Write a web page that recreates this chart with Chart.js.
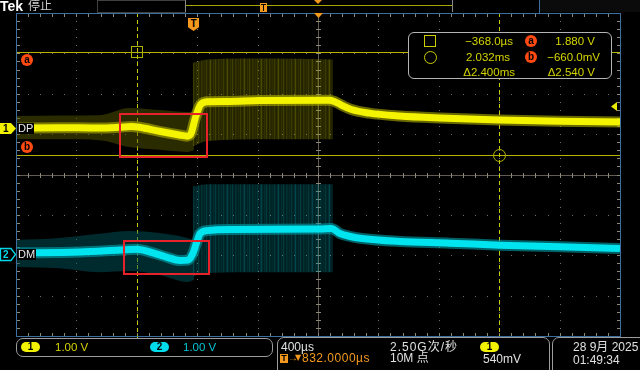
<!DOCTYPE html>
<html lang="zh">
<head>
<meta charset="utf-8">
<title>Tek DP / DM</title>
<script src="https://cdn.jsdelivr.net/npm/chart.js@4/dist/chart.umd.min.js"></script>
<style>
html,body{margin:0;padding:0;background:#000;}
#wrap{position:relative;width:640px;height:370px;overflow:hidden;background:#000;font-family:"Liberation Sans","Noto Sans CJK SC",sans-serif;}
#c{position:absolute;left:0;top:0;}
.t{position:absolute;white-space:nowrap;font-size:12px;line-height:12px;color:#e0e0e0;}
.box{position:absolute;border:1px solid #9c9c9c;border-radius:7px;box-sizing:border-box;background:#000;}
.pill{position:absolute;width:19px;height:10px;border-radius:5px;color:#000;font-weight:bold;font-size:10px;line-height:10px;text-align:center;}
.m{color:#d4d400;font-size:11.5px;}
.circ{position:absolute;width:12px;height:12px;border-radius:6px;background:#ff4a12;color:#000;font-weight:bold;font-size:10px;line-height:11px;text-align:center;}
</style>
</head>
<body>
<div id="wrap">
<canvas id="c" width="640" height="370"></canvas>

<!-- status bar -->
<div class="t" style="left:0px;top:0px;font-size:14px;line-height:13px;font-weight:bold;color:#fff;">Tek</div>
<div class="t" style="left:28px;top:0px;font-size:12px;line-height:13px;color:#d0d0d0;">停止</div>

<!-- trigger position marker -->
<div style="position:absolute;left:188px;top:18px;width:11px;height:13px;background:#f39a1e;clip-path:polygon(0 0,100% 0,100% 72%,50% 100%,0 72%);color:#000;font:bold 10px/11px 'Liberation Sans',sans-serif;text-align:center;">T</div>

<!-- channel / cursor tags on the left -->
<div class="t" style="left:3px;top:123px;font-size:10px;line-height:11px;font-weight:bold;color:#000;">1</div>
<div class="t" style="left:17px;top:123px;font-size:11px;line-height:11px;color:#e8e8e8;background:#000;padding:0 1px;">DP</div>
<div class="t" style="left:3px;top:249px;font-size:10px;line-height:11px;font-weight:bold;color:#00d8e8;">2</div>
<div class="t" style="left:17px;top:249px;font-size:11px;line-height:11px;color:#e8e8e8;background:#000;padding:0 1px;">DM</div>
<div class="circ" style="left:21px;top:54px;">a</div>
<div class="circ" style="left:21px;top:141px;">b</div>

<!-- cursor readout box -->
<div class="box" style="left:408px;top:32px;width:204px;height:47px;border-color:#b4b4b4;border-radius:6px;"></div>
<div style="position:absolute;left:424px;top:35px;width:10px;height:10px;border:1px solid #cccc00;"></div>
<div style="position:absolute;left:424px;top:51px;width:11px;height:11px;border:1px solid #cccc00;border-radius:50%;"></div>
<div class="t m" style="right:127px;top:35px;">−368.0µs</div>
<div class="t m" style="right:130px;top:51px;">2.032ms</div>
<div class="t m" style="right:125px;top:66px;">Δ2.400ms</div>
<div class="circ" style="left:525px;top:35px;">a</div>
<div class="circ" style="left:525px;top:51px;">b</div>
<div class="t m" style="right:45px;top:35px;">1.880 V</div>
<div class="t m" style="right:40px;top:51px;">−660.0mV</div>
<div class="t m" style="right:45px;top:66px;">Δ2.540 V</div>

<!-- bottom: channel scales -->
<div class="box" style="left:16px;top:338px;width:257px;height:19px;"></div>
<div class="pill" style="left:21px;top:342px;background:#f2f200;">1</div>
<div class="t" style="left:55px;top:341px;font-size:11.5px;color:#d4d400;">1.00 V</div>
<div class="pill" style="left:150px;top:342px;background:#00dced;">2</div>
<div class="t" style="left:183px;top:341px;font-size:11.5px;color:#00c4d4;">1.00 V</div>

<!-- bottom: timebase / acquisition / trigger -->
<div class="box" style="left:277px;top:337px;width:273px;height:40px;"></div>
<div class="t" style="left:281px;top:341px;">400µs</div>
<div style="position:absolute;left:280px;top:354px;width:8px;height:9px;background:#f39a1e;color:#000;font:bold 9px/9px 'Liberation Sans',sans-serif;text-align:center;">T</div>
<div class="t" style="left:288px;top:352px;font-size:10px;color:#f39a1e;">→</div>
<div class="t" style="left:295px;top:352px;font-size:8px;color:#f39a1e;font-family:'DejaVu Sans',sans-serif;">▼</div>
<div class="t" style="left:302px;top:352px;color:#f39a1e;letter-spacing:0.5px;">832.0000µs</div>
<div class="t" style="left:390px;top:341px;letter-spacing:1px;">2.50G次/秒</div>
<div class="t" style="left:390px;top:352px;">10M 点</div>
<div class="pill" style="left:480px;top:342px;background:#f2f200;">1</div>
<div class="t" style="left:483px;top:353px;">540mV</div>

<!-- bottom: date -->
<div class="box" style="left:552px;top:337px;width:100px;height:40px;"></div>
<div class="t" style="left:573px;top:341px;">28 9月 2025</div>
<div class="t" style="left:573px;top:354px;">01:49:34</div>
</div>

<script>
// ---- horizontal / vertical settings (µs relative to trigger, volts) ----
const xMinUs = -1168, xMaxUs = 2832, usPerDiv = 400;
const voltsPerDiv = 1.0;
const ch1Min = -5.15, ch1Max = 2.85;   // CH1 (DP) screen range in volts
const ch2Min = -2.03, ch2Max = 5.97;   // CH2 (DM) screen range in volts

// ---- CH1 : DP (main trace) ----
const dpTimeUs = [-1168, -881, -616, -483, -404, -351, -219, -86, -33, -7, 13, 33, 53, 97, 220, 444, 907, 940, 987, 1053, 1172, 1371, 1636, 2033, 2430, 2832];
const dpVolts  = [0.00, 0.01, 0.00, 0.02, 0.04, 0.02, -0.08, -0.17, -0.20, -0.12, 0.16, 0.40, 0.57, 0.65, 0.66, 0.68, 0.69, 0.66, 0.57, 0.46, 0.37, 0.30, 0.25, 0.20, 0.17, 0.15];

// ---- CH2 : DM (main trace) ----
const dmTimeUs = [-1168, -744, -479, -367, -261, -168, -82, -29, 4, 30, 50, 97, 269, 845, 920, 977, 1040, 1110, 1375, 1706, 2037, 2434, 2832];
const dmVolts  = [0.03, 0.05, 0.10, 0.12, 0.03, -0.08, -0.16, -0.15, 0.02, 0.31, 0.50, 0.58, 0.61, 0.62, 0.63, 0.51, 0.44, 0.39, 0.31, 0.27, 0.22, 0.18, 0.14];

// ---- persistence (noise envelope) before the edge ----
const quietTimeUs = [-1168, -881, -616, -417, -219, -33, 10];
const dpQuietHigh = [0.30, 0.31, 0.32, 0.50, 0.45, 0.40, 0.40];
const dpQuietLow  = [-0.27, -0.28, -0.30, -0.47, -0.54, -0.59, -0.55];
const dmQuietHigh = [0.35, 0.40, 0.50, 0.57, 0.52, 0.40, 0.35];
const dmQuietLow  = [-0.32, -0.35, -0.45, -0.42, -0.52, -0.69, -0.64];

// ---- persistence of the burst (after the edge) ----
const burstTimeUs = [5, 100, 500, 930];
const dpBurstHigh = [1.62, 1.70, 1.72, 1.70];
const dpBurstLow  = [-0.45, -0.32, -0.28, -0.28];
const dmBurstHigh = [1.68, 1.73, 1.73, 1.73];
const dmBurstLow  = [-0.55, -0.47, -0.45, -0.45];

// ---- cursors & trigger ----
const cursorTimesUs = [-368.0, 2032];     // square, circle
const cursorVolts   = [1.880, -0.660];    // a, b (CH1)
const triggerLevelV = 0.54;

// ---- highlighted regions (red rectangles) ----
const highlightCh1 = { t0: -479, t1: 97,  vHigh: 0.35, vLow: -0.72 };
const highlightCh2 = { t0: -453, t1: 110, vHigh: 0.32, vLow: -0.49 };

const toPts = (ts, vs) => ts.map((t, i) => ({ x: t, y: vs[i] }));

const canvas = document.getElementById('c');
const ctx0 = canvas.getContext('2d');
function stripes(rgb, alphas) {
  const c = document.createElement('canvas');
  c.width = alphas.length; c.height = 1;
  const g = c.getContext('2d');
  alphas.forEach((al, i) => { g.fillStyle = 'rgba(' + rgb + ',' + al + ')'; g.fillRect(i, 0, 1, 1); });
  return ctx0.createPattern(c, 'repeat');
}
const stripeAlphas = [0.30, 0.25, 0.40, 0.27, 0.23, 0.34, 0.48, 0.28, 0.24, 0.33, 0.26, 0.42, 0.27, 0.22, 0.36, 0.29, 0.25];
const dpBurstFill = stripes('150,150,0', stripeAlphas);
const dmBurstFill = stripes('0,140,150', stripeAlphas);

const line = (data, axis, color, width, order) => ({
  data, yAxisID: axis, borderColor: color, borderWidth: width, pointRadius: 0,
  fill: false, cubicInterpolationMode: 'monotone', order
});
const band = (data, axis, bg, fill, order) => ({
  data, yAxisID: axis, borderWidth: 0, borderColor: 'rgba(0,0,0,0)', backgroundColor: bg,
  pointRadius: 0, fill, cubicInterpolationMode: 'monotone', order
});

const scopeDecor = {
  id: 'scopeDecor',
  beforeDraw(chart) {
    const { ctx } = chart;
    ctx.save();
    ctx.fillStyle = '#000'; ctx.fillRect(0, 0, chart.width, chart.height);
    // status bar
    ctx.fillStyle = '#0b0b0b'; ctx.fillRect(540, 0, 100, 12);
    ctx.strokeStyle = '#404040'; ctx.lineWidth = 1; ctx.strokeRect(97.5, 0.5, 88, 12);
    ctx.fillStyle = '#a8a800'; ctx.fillRect(186, 5, 266, 1);
    ctx.fillStyle = '#8a8a8a'; ctx.fillRect(185, 0, 1, 12); ctx.fillRect(452, 0, 1, 12);
    ctx.fillStyle = '#3c6ea0'; ctx.fillRect(539, 0, 1, 13);
    ctx.fillStyle = '#f39a1e';
    ctx.fillRect(260, 3, 7, 9);
    ctx.fillStyle = '#000'; ctx.fillRect(261, 4, 5, 1); ctx.fillRect(263, 4, 1, 7);
    ctx.fillStyle = '#f39a1e';
    ctx.beginPath(); ctx.moveTo(314, 0); ctx.lineTo(322, 0); ctx.lineTo(318, 4); ctx.closePath(); ctx.fill();
    ctx.restore();
  },
  beforeDatasetsDraw(chart) {
    const { ctx, chartArea: a, scales } = chart;
    const xs = scales.x, ys = scales.y1;
    const xDiv = i => xs.getPixelForValue(xMinUs + i * usPerDiv);
    const yDiv = j => ys.getPixelForValue(ch1Min + j * voltsPerDiv);
    ctx.save();
    // dotted graticule
    ctx.fillStyle = '#727272';
    for (let i = 1; i < 10; i++) {
      if (i === 5) continue;
      const px = Math.round(xDiv(i));
      for (let k = 1; k < 40; k++) ctx.fillRect(px, Math.round(yDiv(k / 5)), 1, 1);
    }
    for (let j = 1; j < 8; j++) {
      if (j === 4) continue;
      const py = Math.round(yDiv(j));
      for (let k = 1; k < 50; k++) ctx.fillRect(Math.round(xDiv(k / 5)), py, 1, 1);
    }
    // centre cross with minor ticks, edge ticks
    const cx = Math.round(xDiv(5)), cy = Math.round(yDiv(4));
    ctx.fillStyle = '#625d52';
    ctx.fillRect(a.left, cy, a.right - a.left, 1);
    ctx.fillRect(cx, a.top, 1, a.bottom - a.top);
    ctx.fillStyle = '#8e8878';
    for (let k = 1; k < 50; k++) {
      const px = Math.round(xDiv(k / 5));
      ctx.fillRect(px, cy - 2, 1, 5);
      ctx.fillRect(px, a.top + 1, 1, 3);
      ctx.fillRect(px, a.bottom - 3, 1, 3);
    }
    for (let k = 1; k < 40; k++) {
      const py = Math.round(yDiv(k / 5));
      ctx.fillRect(cx - 2, py, 5, 1);
      ctx.fillRect(a.left + 1, py, 3, 1);
      ctx.fillRect(a.right - 3, py, 3, 1);
    }
    // horizontal cursors a / b
    ctx.fillStyle = '#b4b400';
    cursorVolts.forEach(v => ctx.fillRect(a.left, Math.round(ys.getPixelForValue(v)), a.right - a.left, 1));
    // vertical dashed cursors
    ctx.fillStyle = '#caca00';
    cursorTimesUs.forEach(t => {
      const px = Math.round(xs.getPixelForValue(t));
      for (let py = a.top; py < a.bottom; py += 7) ctx.fillRect(px, py, 1, 4);
    });
    // cursor symbols
    ctx.strokeStyle = '#b0b000'; ctx.lineWidth = 1;
    const sx = Math.round(xs.getPixelForValue(cursorTimesUs[0])), sy = Math.round(ys.getPixelForValue(cursorVolts[0]));
    ctx.strokeRect(sx - 5.5, sy - 5.5, 11, 11);
    const ox = Math.round(xs.getPixelForValue(cursorTimesUs[1])), oy = Math.round(ys.getPixelForValue(cursorVolts[1]));
    ctx.beginPath(); ctx.arc(ox + 0.5, oy + 0.5, 6, 0, Math.PI * 2); ctx.stroke();
    ctx.restore();
  },
  afterDatasetsDraw(chart) {
    const { ctx, chartArea: a, scales } = chart;
    const xs = scales.x, y1 = scales.y1, y2 = scales.y2;
    ctx.save();
    // red highlight rectangles
    ctx.strokeStyle = '#e8222a'; ctx.lineWidth = 2;
    [[highlightCh1, y1], [highlightCh2, y2]].forEach(([h, ys]) => {
      const x0 = xs.getPixelForValue(h.t0), x1 = xs.getPixelForValue(h.t1);
      const yt = ys.getPixelForValue(h.vHigh), yb = ys.getPixelForValue(h.vLow);
      ctx.strokeRect(Math.round(x0), Math.round(yt), Math.round(x1 - x0), Math.round(yb - yt));
    });
    // plot border
    ctx.fillStyle = '#3c6ea0';
    ctx.fillRect(a.left, a.top, a.right - a.left + 1, 1);
    ctx.fillRect(a.left, a.bottom, a.right - a.left + 1, 1);
    ctx.fillRect(a.left, a.top, 1, a.bottom - a.top);
    ctx.fillRect(a.right, a.top, 1, a.bottom - a.top);
    // centre marker (top)
    const cx = Math.round(xs.getPixelForValue(xMinUs + 5 * usPerDiv));
    ctx.fillStyle = '#f39a1e';
    ctx.beginPath(); ctx.moveTo(cx - 4, a.top); ctx.lineTo(cx + 5, a.top); ctx.lineTo(cx + 0.5, a.top + 5); ctx.closePath(); ctx.fill();
    // trigger level marker (right)
    const ty = Math.round(y1.getPixelForValue(triggerLevelV));
    ctx.fillStyle = '#e8e800';
    ctx.beginPath(); ctx.moveTo(611, ty + 0.5); ctx.lineTo(617, ty - 4); ctx.lineTo(617, ty + 5); ctx.closePath(); ctx.fill();
    // channel ground tags
    const g1 = Math.round(y1.getPixelForValue(0)), g2 = Math.round(y2.getPixelForValue(0));
    ctx.fillStyle = '#f2f200';
    ctx.beginPath(); ctx.moveTo(0, g1 - 5); ctx.lineTo(11, g1 - 5); ctx.lineTo(16, g1 + 0.5); ctx.lineTo(11, g1 + 6); ctx.lineTo(0, g1 + 6); ctx.closePath(); ctx.fill();
    ctx.strokeStyle = '#00d8e8'; ctx.lineWidth = 1.3;
    ctx.beginPath(); ctx.moveTo(0.5, g2 - 5.5); ctx.lineTo(11, g2 - 5.5); ctx.lineTo(15.5, g2 + 0.5); ctx.lineTo(11, g2 + 6.5); ctx.lineTo(0.5, g2 + 6.5); ctx.closePath(); ctx.stroke();
    // rising slope icon (trigger readout)
    ctx.strokeStyle = '#e0e0e0'; ctx.lineWidth = 1;
    ctx.beginPath(); ctx.moveTo(506, 350.5); ctx.lineTo(508, 350.5); ctx.lineTo(512, 342.5); ctx.lineTo(515, 342.5); ctx.stroke();
    ctx.restore();
  }
};

new Chart(canvas, {
  type: 'line',
  data: {
    datasets: [
      line(toPts(dpTimeUs, dpVolts), 'y1', '#f4f400', 7, 0),
      line(toPts(dmTimeUs, dmVolts), 'y2', '#00e4f0', 7, 0),
      line(toPts(dpTimeUs, dpVolts), 'y1', 'rgba(175,175,0,0.6)', 11, 1),
      line(toPts(dmTimeUs, dmVolts), 'y2', 'rgba(0,160,170,0.6)', 11, 1),
      band(toPts(burstTimeUs, dpBurstHigh), 'y1', dpBurstFill, '+1', 2),
      band(toPts(burstTimeUs, dpBurstLow), 'y1', 'rgba(0,0,0,0)', false, 2),
      band(toPts(quietTimeUs, dpQuietHigh), 'y1', 'rgba(85,85,0,0.5)', '+1', 2),
      band(toPts(quietTimeUs, dpQuietLow), 'y1', 'rgba(0,0,0,0)', false, 2),
      band(toPts(burstTimeUs, dmBurstHigh), 'y2', dmBurstFill, '+1', 2),
      band(toPts(burstTimeUs, dmBurstLow), 'y2', 'rgba(0,0,0,0)', false, 2),
      band(toPts(quietTimeUs, dmQuietHigh), 'y2', 'rgba(0,85,92,0.5)', '+1', 2),
      band(toPts(quietTimeUs, dmQuietLow), 'y2', 'rgba(0,0,0,0)', false, 2)
    ]
  },
  options: {
    responsive: false,
    animation: false,
    devicePixelRatio: 1,
    layout: { padding: { left: 16, right: 20, top: 13, bottom: 34 } },
    plugins: { legend: { display: false }, tooltip: { enabled: false } },
    scales: {
      x: { type: 'linear', min: xMinUs, max: xMaxUs, display: false },
      y1: { type: 'linear', min: ch1Min, max: ch1Max, display: false },
      y2: { type: 'linear', min: ch2Min, max: ch2Max, display: false }
    }
  },
  plugins: [scopeDecor]
});
</script>
</body>
</html>
